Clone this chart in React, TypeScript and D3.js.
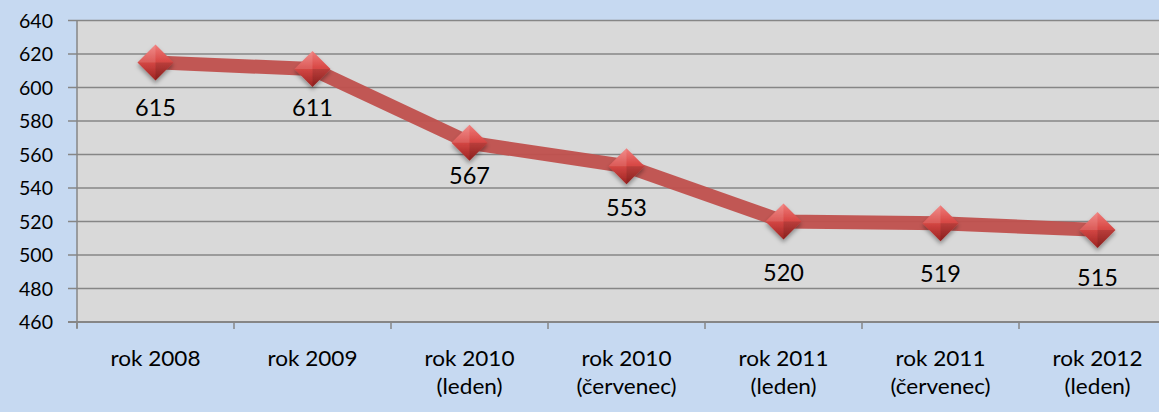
import { useEffect, useRef } from 'react';
import * as d3 from 'd3';

const categories = [
	['rok 2008'],
	['rok 2009'],
	['rok 2010', '(leden)'],
	['rok 2010', '(červenec)'],
	['rok 2011', '(leden)'],
	['rok 2011', '(červenec)'],
	['rok 2012', '(leden)'],
];
const values = [615, 611, 567, 553, 520, 519, 515];
const yTicks = [460, 480, 500, 520, 540, 560, 580, 600, 620, 640];
// labels were hand-placed below each point in the original
const labelDy = [45, 38, 33, 41, 51, 50, 48];

const W = 1159;
const H = 412;
const FONT = 'Lato, "Open Sans", sans-serif';

export default function App() {
	const svgRef = useRef<SVGSVGElement>(null);

	useEffect(() => {
		const svg = d3.select(svgRef.current);
		svg.selectAll('*').remove();

		const left = 77;
		const top = 20.5;
		const bottom = 322;
		const band = 157;
		const right = left + band * categories.length;

		const x = d3
			.scaleBand<number>()
			.domain(d3.range(categories.length))
			.range([left, right]);
		const y = d3.scaleLinear().domain([460, 640]).range([bottom, top]);
		const cx = (i: number) => (x(i) as number) + x.bandwidth() / 2;

		const defs = svg.append('defs');
		const grad = defs.append('linearGradient').attr('id', 'mk').attr('x1', 0).attr('y1', 0).attr('x2', 0).attr('y2', 1);
		grad.append('stop').attr('offset', '0%').attr('stop-color', '#f07c7a');
		grad.append('stop').attr('offset', '45%').attr('stop-color', '#d94a47');
		grad.append('stop').attr('offset', '100%').attr('stop-color', '#9c2321');
		const sh = defs.append('filter').attr('id', 'sh').attr('x', '-50%').attr('y', '-50%').attr('width', '200%').attr('height', '200%');
		sh.append('feDropShadow').attr('dx', 0).attr('dy', 3).attr('stdDeviation', 2).attr('flood-color', '#000').attr('flood-opacity', 0.35);

		svg.append('rect').attr('width', W).attr('height', H).attr('fill', '#c6d9f1');
		svg.append('rect')
			.attr('x', left)
			.attr('y', top)
			.attr('width', right - left)
			.attr('height', bottom - top)
			.attr('fill', '#d9d9d9');

		// gridlines + y ticks
		svg.append('g')
			.selectAll('line')
			.data(yTicks)
			.join('line')
			.attr('x1', left - 9)
			.attr('x2', right)
			.attr('y1', d => y(d))
			.attr('y2', d => y(d))
			.attr('stroke', '#868686')
			.attr('stroke-width', 1.5);

		svg.append('g')
			.selectAll('text')
			.data(yTicks)
			.join('text')
			.attr('x', 53)
			.attr('y', d => y(d))
			.attr('dy', '0.36em')
			.attr('text-anchor', 'end')
			.style('font', `19.5px ${FONT}`)
			.attr('fill', '#000')
			.text(d => d);

		// axes
		svg.append('line').attr('x1', left).attr('x2', left).attr('y1', top).attr('y2', bottom + 6).attr('stroke', '#868686').attr('stroke-width', 1.5);
		svg.append('line').attr('x1', left - 9).attr('x2', right).attr('y1', bottom).attr('y2', bottom).attr('stroke', '#868686').attr('stroke-width', 2);
		svg.append('g')
			.selectAll('line')
			.data(d3.range(categories.length + 1))
			.join('line')
			.attr('x1', i => left + i * x.bandwidth())
			.attr('x2', i => left + i * x.bandwidth())
			.attr('y1', bottom)
			.attr('y2', bottom + 7)
			.attr('stroke', '#868686')
			.attr('stroke-width', 1.5);

		// x labels (slightly stretched, like the source)
		const xl = svg.append('g')
			.selectAll('g')
			.data(categories)
			.join('g')
			.attr('transform', (d, i) => `translate(${cx(i)},0) scale(1.1,1)`);
		xl.selectAll('text')
			.data(d => d)
			.join('text')
			.attr('x', 0)
			.attr('y', (d, j) => 366 + j * 28)
			.attr('text-anchor', 'middle')
			.style('font', `20.5px ${FONT}`)
			.attr('fill', '#000')
			.text(d => d);

		// line
		svg.append('path')
			.datum(values)
			.attr('fill', 'none')
			.attr('stroke', '#c0504d')
			.attr('stroke-opacity', 0.95)
			.attr('stroke-width', 14)
			.attr('stroke-linejoin', 'round')
			.attr('d', d3.line<number>().x((d, i) => cx(i)).y(d => y(d)));

		// markers
		const r = 18;
		const mk = svg.append('g')
			.selectAll('g')
			.data(values)
			.join('g')
			.attr('transform', (d, i) => `translate(${cx(i)},${y(d)})`);
		mk.append('path')
			.attr('d', `M0,${-r}L${r},0L0,${r}L${-r},0Z`)
			.attr('fill', 'url(#mk)')
			.attr('filter', 'url(#sh)');
		mk.append('path')
			.attr('d', `M0,${-r}L${-r},0L0,0Z`)
			.attr('fill', '#fff')
			.attr('opacity', 0.12);
		mk.append('path')
			.attr('d', `M0,0L${r},0L0,${r}Z`)
			.attr('fill', '#000')
			.attr('opacity', 0.12);

		// data labels
		svg.append('g')
			.selectAll('text')
			.data(values)
			.join('text')
			.attr('x', (d, i) => cx(i))
			.attr('y', (d, i) => y(d) + labelDy[i])
			.attr('dy', '0.36em')
			.attr('text-anchor', 'middle')
			.style('font', `23.5px ${FONT}`)
			.attr('fill', '#000')
			.text(d => d);
	}, []);

	return (
		<svg
			ref={svgRef}
			width={W}
			height={H}
			style={{ position: 'absolute', left: 0, top: 0, display: 'block' }}
		/>
	);
}
